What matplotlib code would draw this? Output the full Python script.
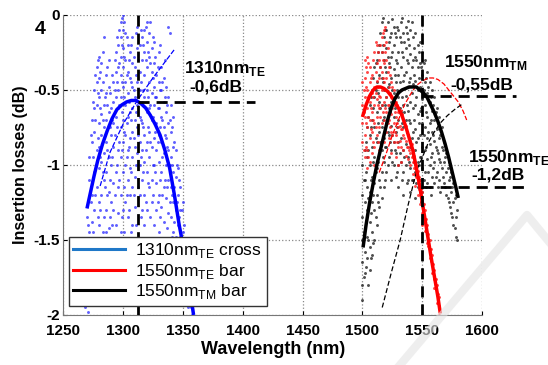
import matplotlib
matplotlib.use("Agg")
import matplotlib.pyplot as plt
from matplotlib.lines import Line2D

plt.rcParams['font.family'] = ['Liberation Sans', 'DejaVu Sans']
plt.rcParams['mathtext.fontset'] = 'custom'
plt.rcParams['mathtext.rm'] = 'Liberation Sans'
plt.rcParams['mathtext.bf'] = 'Liberation Sans:bold'

# --- measured points (columns of wavelength -> list of losses) ---
blue_cols = [1268, 1270, 1272, 1274, 1276, 1278, 1280, 1282, 1284, 1286, 1288, 1290,
             1292, 1294, 1296, 1298, 1300, 1302, 1304, 1306, 1308, 1310, 1312, 1314,
             1316, 1318, 1320, 1322, 1324, 1326, 1328, 1330, 1332, 1334, 1336, 1338,
             1340, 1342, 1344, 1346, 1348, 1350, 1352, 1354, 1356, 1358]
blue_vals = [
    [-1.55, -1.7, -1.85, -1.95],
    [-1.35, -1.5, -1.62, -1.78, -1.9],
    [-0.95, -1.1, -1.45, -1.6, -1.72],
    [-0.7, -0.85, -1.2, -1.38, -1.68, -1.85],
    [-0.5, -0.62, -0.78, -1.05, -1.3],
    [-0.35, -0.45, -0.6, -0.9, -1.15, -1.5],
    [-0.28, -0.42, -0.55, -0.72, -0.88, -1.02, -1.25, -1.4],
    [-0.32, -0.5, -0.66, -0.8, -0.98, -1.2],
    [-0.15, -0.6, -0.75, -0.92, -1.1, -1.35, -1.55],
    [-0.4, -0.52, -0.7, -0.85, -1.05, -1.3, -1.45],
    [-0.3, -0.48, -0.65, -0.95, -1.18, -1.42, -1.6],
    [-0.62, -0.8, -1.0, -1.25, -1.5, -1.68],
    [-0.45, -0.58, -0.72, -0.88, -1.12, -1.3],
    [-0.25, -0.38, -0.55, -0.68, -1.05, -1.4],
    [-0.2, -0.35, -0.5, -0.62, -0.9, -1.15, -1.32],
    [-0.05, -0.15, -0.28, -0.4, -0.55, -0.75, -0.95, -1.2, -1.45],
    [0.0, -0.1, -0.22, -0.35, -0.48, -0.7, -0.85, -1.05, -1.3, -1.5],
    [-0.12, -0.3, -0.45, -0.6, -0.8, -1.0, -1.25],
    [-0.2, -0.38, -0.52, -0.68, -0.9, -1.1, -1.35],
    [-0.25, -0.42, -0.65, -0.82, -1.02, -1.2],
    [-0.15, -0.32, -0.48, -0.62, -0.78, -0.95, -1.15, -1.4],
    [-0.35, -0.55, -0.7, -0.88, -1.08, -1.28],
    [-0.08, -0.22, -0.45, -0.6, -0.75, -0.92],
    [-0.2, -0.38, -0.5, -0.68, -0.85, -1.0, -1.2],
    [-0.15, -0.3, -0.58, -0.72, -0.9, -1.1, -1.3],
    [-0.1, -0.25, -0.4, -0.55, -0.8, -0.98, -1.2, -1.4],
    [-0.05, -0.18, -0.35, -0.5, -0.65, -0.85, -1.05, -1.3],
    [-0.12, -0.28, -0.45, -0.62, -0.78, -0.95, -1.15],
    [-0.22, -0.38, -0.52, -0.7, -0.88, -1.1, -1.25],
    [-0.18, -0.32, -0.48, -0.6, -0.82, -1.0, -1.4],
    [-0.4, -0.55, -0.72, -0.9, -1.12, -1.3, -1.5],
    [-0.25, -0.45, -0.62, -0.8, -0.98, -1.2, -1.45],
    [-0.35, -0.5, -0.68, -0.85, -1.05, -1.28],
    [-0.42, -0.58, -0.75, -0.92, -1.15, -1.38],
    [-0.48, -0.65, -0.82, -1.0, -1.22],
    [-0.08, -0.55, -0.72, -0.9, -1.1, -1.32, -1.5],
    [-0.6, -0.78, -0.95, -1.15, -1.35, -1.55],
    [-0.68, -0.88, -1.05, -1.25, -1.45],
    [-0.9, -1.08, -1.3, -1.48, -1.62],
    [-1.02, -1.2, -1.4, -1.55],
    [-1.15, -1.3, -1.48, -1.65],
    [-1.25, -1.45, -1.6, -1.75],
    [-1.5, -1.7, -1.85],
    [-1.62, -1.8, -1.95],
    [-1.75, -1.9],
    [-1.85, -2.0],
]
blue_cols_odd = [1269, 1271, 1273, 1275, 1277, 1279, 1281, 1283, 1285, 1287, 1289, 1291,
                 1293, 1295, 1297, 1299, 1301, 1303, 1305, 1307, 1309, 1311, 1313, 1315,
                 1317, 1319, 1321, 1323, 1325, 1327, 1329, 1331, 1333, 1335, 1337, 1339,
                 1341, 1343, 1345, 1347, 1349, 1351, 1353, 1355, 1357, 1359]
blue_vals_odd = [
    [-1.6, -1.8], [-1.4, -1.7, -1.98], [-0.8, -1.25, -1.55], [-0.58, -0.95, -1.45, -1.75],
    [-0.4, -0.7, -1.2, -1.6], [-0.3, -0.52, -0.82, -1.35, -1.9],
    [-0.38, -0.62, -0.95, -1.3, -1.6], [-0.25, -0.45, -0.7, -1.05, -1.45],
    [-0.55, -0.8, -1.15, -1.5], [-0.35, -0.6, -0.9, -1.2, -1.55],
    [-0.52, -0.75, -1.1, -1.35], [-0.4, -0.7, -0.95, -1.4], [-0.3, -0.5, -0.8, -1.2],
    [-0.15, -0.45, -0.75, -1.0, -1.5], [-0.1, -0.32, -0.6, -0.85, -1.1],
    [-0.02, -0.2, -0.45, -0.65, -0.9, -1.35], [-0.05, -0.28, -0.55, -0.78, -1.15, -1.45],
    [-0.15, -0.4, -0.72, -0.95, -1.2], [-0.3, -0.58, -0.88, -1.3],
    [-0.2, -0.45, -0.7, -1.05, -1.45], [-0.28, -0.5, -0.82, -1.2],
    [-0.12, -0.4, -0.65, -1.0, -1.4], [-0.3, -0.55, -0.8, -1.15],
    [-0.1, -0.45, -0.7, -0.95, -1.35], [-0.2, -0.5, -0.75, -1.05],
    [-0.08, -0.3, -0.62, -0.9, -1.25], [-0.25, -0.55, -0.75, -1.12],
    [-0.05, -0.32, -0.6, -0.85, -1.35], [-0.15, -0.42, -0.68, -1.0, -1.2],
    [-0.28, -0.55, -0.78, -1.05], [-0.35, -0.62, -0.85, -1.25],
    [-0.2, -0.5, -0.75, -1.1, -1.35], [-0.45, -0.7, -0.95, -1.2],
    [-0.3, -0.55, -0.8, -1.1], [-0.6, -0.88, -1.15, -1.42], [-0.12, -0.7, -1.0, -1.25],
    [-0.75, -1.0, -1.2, -1.48], [-0.85, -1.15, -1.38], [-1.0, -1.25, -1.5],
    [-1.1, -1.35, -1.58], [-1.3, -1.55, -1.7], [-1.4, -1.62, -1.8], [-1.55, -1.75, -1.9],
    [-1.7, -1.88], [-1.8, -1.95], [-1.92],
]

red_cols = [1500, 1502, 1504, 1506, 1508, 1510, 1512, 1514, 1516, 1518, 1520, 1522,
            1524, 1526, 1528, 1530, 1532, 1534, 1536, 1538, 1540, 1542, 1544, 1546,
            1548, 1550, 1552, 1554, 1556, 1558, 1560, 1562, 1564]
red_vals = [
    [-0.45, -0.6, -0.72, -0.85],
    [-0.3, -0.42, -0.55, -0.68, -0.8, -0.95],
    [-0.28, -0.38, -0.5, -0.62, -0.75, -0.9, -1.02],
    [-0.35, -0.45, -0.58, -0.7, -0.82, -0.98],
    [-0.4, -0.52, -0.65, -0.78, -0.92],
    [-0.25, -0.48, -0.6, -0.72, -0.88, -1.0],
    [-0.2, -0.32, -0.44, -0.56, -0.68, -0.8],
    [-0.3, -0.42, -0.54, -0.62, -0.75, -0.9],
    [-0.15, -0.25, -0.38, -0.5, -0.6, -0.72],
    [-0.1, -0.2, -0.32, -0.45, -0.58, -0.7, -0.85],
    [-0.18, -0.3, -0.42, -0.55, -0.65, -0.78],
    [-0.35, -0.48, -0.6, -0.7, -0.82],
    [-0.45, -0.55, -0.66, -0.78, -0.92],
    [-0.5, -0.6, -0.72, -0.85],
    [-0.58, -0.68, -0.8, -0.95],
    [-0.65, -0.75, -0.88, -1.0],
    [-0.66, -0.76, -0.88, -0.98],
    [-0.7, -0.8, -0.9],
    [-0.74, -0.84, -0.94],
    [-0.8, -0.88, -0.96],
    [-0.84, -0.92, -1.0],
    [-0.9, -0.98, -1.06],
    [-0.98, -1.06, -1.14],
    [-1.04, -1.12, -1.2],
    [-1.1, -1.18, -1.26],
    [-1.18, -1.25, -1.32, -1.4],
    [-1.3, -1.36, -1.44],
    [-1.4, -1.46, -1.52],
    [-1.5, -1.56, -1.62],
    [-1.6, -1.66, -1.72],
    [-1.7, -1.76, -1.82],
    [-1.8, -1.86, -1.92],
    [-1.88, -1.94, -2.0],
]
red_cols_odd = [1501, 1503, 1505, 1507, 1509, 1511, 1513, 1515, 1517, 1519, 1521, 1523,
                1525, 1527, 1529, 1531, 1533, 1535, 1537, 1539, 1541, 1543, 1545, 1547,
                1549, 1551, 1553, 1555, 1557, 1559, 1561, 1563]
red_vals_odd = [
    [-0.5, -0.65, -0.9], [-0.35, -0.48, -0.72, -0.88], [-0.32, -0.55, -0.68, -0.95],
    [-0.42, -0.62, -0.76], [-0.3, -0.55, -0.7, -0.85], [-0.18, -0.38, -0.52, -0.75],
    [-0.25, -0.48, -0.6, -0.85], [-0.2, -0.35, -0.55, -0.68], [-0.12, -0.3, -0.42, -0.65],
    [-0.08, -0.25, -0.5, -0.62], [-0.22, -0.38, -0.6, -0.72], [-0.4, -0.52, -0.75],
    [-0.48, -0.62, -0.8], [-0.55, -0.65, -0.78], [-0.6, -0.72, -0.85],
    [-0.64, -0.74, -0.84], [-0.66, -0.76], [-0.72, -0.82], [-0.78, -0.88], [-0.82, -0.9],
    [-0.86, -0.95], [-0.94, -1.02], [-1.0, -1.08], [-1.08, -1.16], [-1.16, -1.24],
    [-1.26, -1.34], [-1.36, -1.44], [-1.46, -1.54], [-1.56, -1.64], [-1.66, -1.72],
    [-1.76, -1.82], [-1.86, -1.92],
]

black_cols = [1500, 1502, 1504, 1506, 1508, 1510, 1512, 1514, 1516, 1518, 1520, 1522,
              1524, 1526, 1528, 1530, 1532, 1534, 1536, 1538, 1540, 1542, 1544, 1546,
              1548, 1550, 1552, 1554, 1556, 1558, 1560, 1562, 1564, 1566, 1568, 1570,
              1572, 1574, 1576, 1578]
black_vals = [
    [-1.0, -1.2, -1.35, -1.5, -1.65, -1.8, -1.9],
    [-0.9, -1.1, -1.25, -1.42, -1.58, -1.72],
    [-0.75, -0.95, -1.15, -1.3, -1.48, -1.62],
    [-0.6, -0.8, -1.0, -1.18, -1.38, -1.55, -1.7],
    [-0.5, -0.7, -0.88, -1.08, -1.25, -1.45, -1.6],
    [-0.35, -0.55, -0.75, -0.95, -1.12, -1.3, -1.5],
    [-0.3, -0.45, -0.65, -0.85, -1.02, -1.2, -1.4],
    [-0.2, -0.4, -0.58, -0.78, -0.92, -1.1, -1.28],
    [-0.05, -0.25, -0.42, -0.6, -0.75, -0.9, -1.05, -1.22],
    [-0.15, -0.3, -0.5, -0.68, -0.82, -0.98, -1.15],
    [-0.1, -0.22, -0.38, -0.55, -0.72, -0.88, -1.05],
    [-0.18, -0.32, -0.46, -0.62, -0.8, -0.95],
    [-0.12, -0.28, -0.42, -0.58, -0.74, -0.9, -1.1],
    [-0.08, -0.2, -0.36, -0.52, -0.68, -0.85, -1.0],
    [-0.15, -0.3, -0.45, -0.6, -0.78, -0.92, -1.08],
    [-0.1, -0.25, -0.4, -0.55, -0.7, -0.85, -1.0, -1.15],
    [-0.05, -0.18, -0.35, -0.5, -0.65, -0.82, -0.98],
    [-0.12, -0.28, -0.44, -0.6, -0.75, -0.9, -1.05, -1.2],
    [-0.08, -0.22, -0.38, -0.54, -0.7, -0.86, -1.0],
    [-0.04, -0.16, -0.32, -0.48, -0.64, -0.8, -0.95, -1.1],
    [-0.1, -0.26, -0.42, -0.58, -0.72, -0.88, -1.02, -1.18],
    [-0.15, -0.3, -0.46, -0.62, -0.78, -0.94, -1.1],
    [-0.12, -0.28, -0.44, -0.6, -0.76, -0.9, -1.05, -1.22],
    [-0.2, -0.35, -0.5, -0.66, -0.82, -0.98, -1.15],
    [-0.18, -0.32, -0.48, -0.64, -0.8, -0.95, -1.1],
    [-0.25, -0.4, -0.56, -0.72, -0.88, -1.02, -1.18],
    [-0.3, -0.45, -0.6, -0.75, -0.9, -1.05],
    [-0.38, -0.52, -0.68, -0.82, -0.96, -1.12],
    [-0.45, -0.58, -0.72, -0.86, -1.0, -1.15],
    [-0.5, -0.64, -0.78, -0.92, -1.08],
    [-0.55, -0.7, -0.84, -0.98, -1.12],
    [-0.62, -0.76, -0.9, -1.05],
    [-0.68, -0.82, -0.96, -1.1],
    [-0.75, -0.88, -1.02],
    [-0.85, -0.98, -1.12],
    [-0.92, -1.05, -1.2],
    [-0.98, -1.1, -1.25],
    [-1.05, -1.18, -1.32],
    [-1.12, -1.25, -1.4],
    [-1.2, -1.35, -1.48],
]
black_cols_odd = [1501, 1503, 1505, 1507, 1509, 1511, 1513, 1515, 1517, 1519, 1521, 1523,
                  1525, 1527, 1529, 1531, 1533, 1535, 1537, 1539, 1541, 1543, 1545, 1547,
                  1549, 1551, 1553, 1555, 1557, 1559, 1561, 1563, 1565, 1567, 1569, 1571,
                  1573, 1575, 1577, 1579]
black_vals_odd = [
    [-1.1, -1.45, -1.75], [-0.85, -1.05, -1.38, -1.68], [-0.68, -0.9, -1.22, -1.5, -1.8],
    [-0.55, -0.75, -1.1, -1.32, -1.62], [-0.42, -0.62, -0.98, -1.2, -1.52],
    [-0.32, -0.5, -0.82, -1.05, -1.35], [-0.25, -0.52, -0.72, -0.98, -1.25],
    [-0.12, -0.35, -0.62, -0.85, -1.15], [-0.02, -0.2, -0.45, -0.7, -0.95],
    [-0.1, -0.35, -0.6, -0.88, -1.1], [-0.05, -0.28, -0.48, -0.78, -1.0],
    [-0.15, -0.35, -0.65, -0.85], [-0.03, -0.25, -0.5, -0.8, -0.98],
    [-0.12, -0.4, -0.62, -0.9], [-0.08, -0.32, -0.5, -0.75, -1.05],
    [-0.15, -0.45, -0.62, -0.92], [-0.02, -0.25, -0.55, -0.72, -1.1],
    [-0.18, -0.4, -0.65, -0.95], [-0.12, -0.3, -0.6, -0.78, -1.12],
    [-0.2, -0.45, -0.7, -0.98], [-0.05, -0.35, -0.52, -0.82, -1.1],
    [-0.22, -0.4, -0.7, -0.98], [-0.3, -0.55, -0.85, -1.12], [-0.25, -0.42, -0.72, -1.0],
    [-0.35, -0.62, -0.95, -1.25], [-0.32, -0.5, -0.8, -1.1], [-0.42, -0.65, -0.88, -1.15],
    [-0.48, -0.78, -1.05], [-0.55, -0.7, -0.95, -1.2], [-0.6, -0.8, -1.02],
    [-0.65, -0.88, -1.08], [-0.72, -0.92, -1.15], [-0.8, -0.98, -1.18], [-0.9, -1.08],
    [-0.95, -1.15], [-1.02, -1.22], [-1.08, -1.28], [-1.15, -1.35], [-1.22, -1.42],
    [-1.3, -1.5],
]

# --- fitted curves (thick) ---
blue_fit_x = [1270, 1273, 1276, 1279, 1283, 1287, 1291, 1295, 1299, 1303, 1307, 1311,
              1315, 1319, 1323, 1327, 1331, 1335, 1339, 1343, 1347, 1351, 1355, 1359]
blue_fit_y = [-1.29, -1.18, -1.07, -0.97, -0.86, -0.77, -0.69, -0.63, -0.6, -0.58, -0.57,
              -0.57, -0.59, -0.62, -0.67, -0.73, -0.8, -0.9, -1.02, -1.2, -1.4, -1.57,
              -1.78, -2.0]
red_fit_x = [1500, 1503, 1506, 1509, 1512, 1515, 1518, 1521, 1524, 1527, 1530, 1533,
             1536, 1539, 1542, 1545, 1548, 1551, 1554, 1557, 1560, 1563, 1565]
red_fit_y = [-0.68, -0.6, -0.54, -0.5, -0.48, -0.48, -0.49, -0.51, -0.54, -0.58, -0.62,
             -0.67, -0.74, -0.82, -0.9, -1.02, -1.15, -1.3, -1.45, -1.6, -1.74, -1.88, -1.99]
black_fit_x = [1500.5, 1503, 1506, 1509, 1512, 1515, 1518, 1521, 1524, 1527, 1530, 1533,
               1536, 1539, 1542, 1545, 1548, 1551, 1554, 1557, 1560, 1563, 1566, 1569,
               1572, 1575, 1578, 1580]
black_fit_y = [-1.55, -1.4, -1.25, -1.12, -1.0, -0.9, -0.8, -0.7, -0.62, -0.56, -0.52,
               -0.5, -0.49, -0.48, -0.48, -0.48, -0.5, -0.52, -0.55, -0.6, -0.65, -0.71,
               -0.78, -0.86, -0.95, -1.05, -1.15, -1.22]

# --- thin dashed curves ---
blue_thin_x = [1281, 1289, 1300, 1312, 1325, 1343]
blue_thin_y = [-1.14, -0.92, -0.73, -0.57, -0.42, -0.23]
red_thin_x = [1514, 1520, 1525, 1530, 1535, 1540, 1545, 1550, 1555, 1559, 1563, 1568,
              1572, 1576, 1580, 1584, 1587]
red_thin_y = [-1.05, -0.92, -0.8, -0.7, -0.6, -0.53, -0.47, -0.44, -0.42, -0.42, -0.43,
              -0.46, -0.5, -0.54, -0.58, -0.64, -0.7]
black_thin_x = [1516.5, 1524, 1531.5, 1538, 1545.5, 1550, 1555, 1560, 1565, 1571, 1577, 1584]
black_thin_y = [-1.95, -1.72, -1.5, -1.27, -1.03, -0.95, -0.85, -0.78, -0.72, -0.67,
                -0.63, -0.59]

peak_1310 = (1313, -0.58)
peak_tm = (1550, -0.54)
level_te = -1.15

xticks = [1250, 1300, 1350, 1400, 1450, 1500, 1550, 1600]
yticks = [0, -0.5, -1, -1.5, -2]
yticklabels = ['0', '-0.5', '-1', '-1.5', '-2']


def flatten(cols, vals):
    xs, ys = [], []
    for c, v in zip(cols, vals):
        xs += [c] * len(v)
        ys += v
    return xs, ys


fig = plt.figure(figsize=(5.48, 3.65), dpi=100)
ax = fig.add_axes([0.115, 0.137, 0.765, 0.822])

bx, by = flatten(blue_cols + blue_cols_odd, blue_vals + blue_vals_odd)
rx, ry = flatten(red_cols + red_cols_odd, red_vals + red_vals_odd)
kx, ky = flatten(black_cols + black_cols_odd, black_vals + black_vals_odd)
ax.scatter(bx, by, s=4.5, color='#2a2aff', alpha=0.75, linewidths=0, zorder=2)
ax.scatter(kx, ky, s=4.5, color='#222222', alpha=0.8, linewidths=0, zorder=2)
ax.scatter(rx, ry, s=4.5, color='#ff1a1a', alpha=0.8, linewidths=0, zorder=2)

ax.plot(blue_thin_x, blue_thin_y, color='blue', lw=0.9, ls=(0, (4, 1.5)), zorder=3)
ax.plot(red_thin_x, red_thin_y, color='red', lw=0.9, ls=(0, (4, 1.5)), zorder=3)
ax.plot(black_thin_x, black_thin_y, color='black', lw=0.9, ls=(0, (4, 2)), zorder=3)

ax.plot(blue_fit_x, blue_fit_y, color='blue', lw=2.5, zorder=4, solid_capstyle='butt')
ax.plot(red_fit_x, red_fit_y, color='red', lw=2.5, zorder=4, solid_capstyle='butt')
ax.plot(black_fit_x, black_fit_y, color='black', lw=2.5, zorder=4, solid_capstyle='butt')

# markers for peaks / levels
dash = (0, (4, 2.5))
ax.plot([peak_1310[0], peak_1310[0]], [0, -2], color='black', lw=2, ls=dash, zorder=5)
ax.plot([peak_tm[0], peak_tm[0]], [0, -2], color='black', lw=2, ls=dash, zorder=5)
ax.plot([peak_1310[0], 1410], [peak_1310[1], peak_1310[1]], color='black', lw=2, ls=dash, zorder=5)
ax.plot([peak_tm[0], 1628], [peak_tm[1], peak_tm[1]], color='black', lw=2, ls=dash,
        zorder=5, clip_on=False)
ax.plot([peak_tm[0], 1636], [level_te, level_te], color='black', lw=2, ls=dash,
        zorder=5, clip_on=False)

tkw = dict(fontsize=12.5, fontweight='bold', ha='center', va='baseline', zorder=6,
           clip_on=False)
ax.text(1385, -0.39, r'1310nm$_{\mathbf{TE}}$', **tkw)
ax.text(1378, -0.51, '-0,6dB', **tkw)
ax.text(1603, -0.35, r'1550nm$_{\mathbf{TM}}$', **tkw)
ax.text(1600, -0.5, '-0,55dB', **tkw)
ax.text(1622, -0.98, r'1550nm$_{\mathbf{TE}}$', **tkw)
ax.text(1613, -1.1, '-1,2dB', **tkw)

ax.set_xlim(1250, 1600)
ax.set_ylim(-2, 0)
ax.set_xticks(xticks)
ax.set_yticks(yticks)
ax.set_yticklabels(yticklabels)
ax.grid(True, color='#888888', ls=':', lw=0.9)
ax.set_axisbelow(True)
for s in ['top', 'right']:
    ax.spines[s].set_visible(False)
for s in ['left', 'bottom']:
    ax.spines[s].set_color('#777777')
ax.tick_params(direction='in', length=3, labelsize=11, colors='black')
ax.tick_params(axis='x', pad=6.5)
ax.tick_params(axis='y', pad=2)
for lab in ax.get_xticklabels() + ax.get_yticklabels():
    lab.set_fontweight('bold')
ax.set_xlabel('Wavelength (nm)', fontsize=13, fontweight='bold', labelpad=2)
ax.set_ylabel('Insertion losses (dB)', fontsize=11.5, fontweight='bold', labelpad=4)

handles = [Line2D([], [], color='#1f78c8', lw=2.2),
           Line2D([], [], color='#ff0000', lw=2.2),
           Line2D([], [], color='black', lw=2.2)]
labels = [r'1310nm$_{\mathrm{TE}}$ cross', r'1550nm$_{\mathrm{TE}}$ bar',
          r'1550nm$_{\mathrm{TM}}$ bar']
leg = ax.legend(handles, labels, loc='lower left', bbox_to_anchor=(0.005, 0.02),
                fontsize=12.5, frameon=True, fancybox=False, handlelength=3.0,
                borderpad=0.25, labelspacing=0.08, handletextpad=0.6,
                borderaxespad=0.2)
leg.get_frame().set_edgecolor('#333333')
leg.get_frame().set_linewidth(1.0)
leg.get_frame().set_alpha(1)
leg.set_zorder(10)

fig.text(0.073, 0.918, '4', fontsize=14, fontweight='bold', ha='center', va='center')

# faint watermark chevron
fig.add_artist(Line2D([400 / 548, 527 / 548, 560 / 548],
                      [1 - 365 / 365, 1 - 215 / 365, 1 - 255 / 365],
                      transform=fig.transFigure, color='#e4e4e4', lw=6, alpha=0.6,
                      zorder=0.5))

fig.savefig('out.png', dpi=100)
